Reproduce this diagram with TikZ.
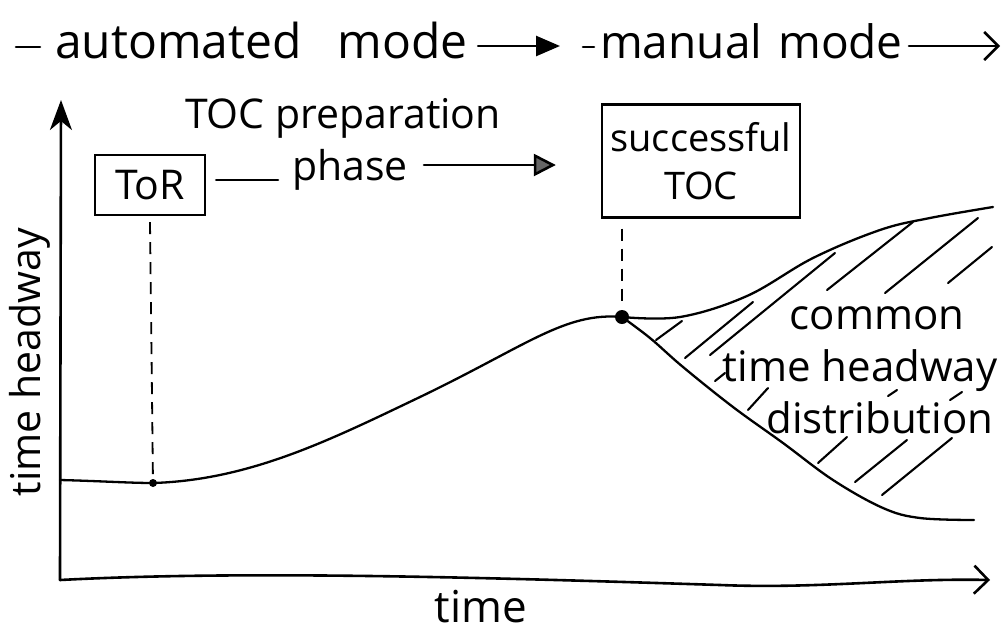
\documentclass[tikz,border=0pt]{standalone}
\usepackage{fontspec}
\setmainfont{Open Sans}
\usetikzlibrary{arrows.meta}
\begin{document}
\begin{tikzpicture}[x=1pt,y=-1pt,
  pen/.style={line width=2.6pt, line cap=round, line join=round},
  curve pen/.style={line width=2.3pt, line cap=round, line join=round},
  thin pen/.style={line width=2.1pt, line cap=round},
  dashline/.style={line width=1.8pt, dash pattern=on 12pt off 8pt},
  headline/.style={font=\fontsize{48}{54}\selectfont, inner sep=0pt},
  lbl/.style={font=\fontsize{41}{46}\selectfont, inner sep=0pt},
  region/.style={font=\fontsize{42}{52}\selectfont, inner sep=0pt, align=center},
  boxed/.style={draw, line width=2.4pt, inner sep=0pt, align=center},
  barb/.style={-{Straight Barb[length=14pt,width=28pt,line width=2.6pt]}},
  upbarb/.style={-{Stealth[length=30pt,width=22pt,inset=9pt]}},
  solidtip/.style={-{Triangle[length=24pt,width=20pt]}},
  greytip/.style={-{Triangle[length=22pt,width=22pt,fill=black!60]}},
  dot/.style={circle, fill, inner sep=0pt}]
\useasboundingbox (0,0) rectangle (1006,635);

% --- mode line along the top ---
\coordinate (topline) at (0,46);
\node[headline, anchor=base west] (auto) at (55,58) {automated\hspace{36pt}mode};
\node[font=\fontsize{46}{52}\selectfont, inner sep=0pt, anchor=base west] (manual) at (600,58) {manual\hspace{16pt}mode};
\coordinate (d0) at (16,47);
\coordinate (d1) at (40,47);
\draw[pen] (d0) -- (d1);
\coordinate (m0) at (583,47);
\coordinate (m1) at (594,47);
\draw[pen] (m0) -- (m1);
\draw[pen, solidtip] ([xshift=10pt]auto.east |- topline) -- ([xshift=-40pt]manual.west |- topline);
\coordinate (topend) at (1000,46);
\draw[pen, barb] ([xshift=6pt]manual.east |- topline) -- (topend);

% --- axes ---
\coordinate (o) at (60,580);
\coordinate (ytip) at (61,100);
\coordinate (xmid) at (720,585);
\coordinate (xtip) at (990,580);
\draw[pen, upbarb] (o) -- (ytip);
\draw[pen, barb] (o) .. controls (250,570) and (500,578) .. (xmid) .. controls (820,589) and (900,578) .. (xtip);
\node[font=\fontsize{44}{50}\selectfont, inner sep=0pt] (xlab) at (481,607) {time};
\node[lbl, rotate=90] (ylab) at (30,362) {time headway};

% --- events ---
\node[boxed, lbl, minimum width=110pt, minimum height=60pt] (tor) at (150,185) {ToR};
\node[boxed, font=\fontsize{38}{48}\selectfont, minimum width=198pt, minimum height=113pt] (succ) at (701,161) {successful\\TOC};
\node[lbl] (prep) at (343,118) {TOC preparation};
\node[lbl] (phase) at (350,170) {phase};
\coordinate (phaseline) at (0,165);
\coordinate (torline) at (0,180);
\draw[pen] ([xshift=10pt]tor.east |- torline) -- ([xshift=-14pt]phase.west |- torline);
\draw[pen, greytip] ([xshift=16pt]phase.east |- phaseline) -- ([xshift=-45pt]succ.west |- phaseline);

\node[dot, minimum size=8pt] (tordot) at (153,483) {};
\node[dot, minimum size=14pt] (tocdot) at (622,317) {};
\draw[dashline] ([yshift=-6pt]tor.south) -- (tordot.center);
\draw[dashline] ([yshift=-10pt]tocdot |- succ.south) -- ([yshift=9pt]tocdot.center);

% --- time headway curve and its two branches ---
\coordinate (c0) at (60,480);
\coordinate (bend) at (420,397);
\draw[curve pen] (c0) .. controls (100,481) and (130,483) .. (tordot.center)
  .. controls (250,480) and (330,440) .. (bend)
  .. controls (528,345) and (565,312) .. (tocdot.center);
\coordinate (upend) at (993,207);
\coordinate (lowend) at (974,520);
\draw[curve pen] plot[smooth, tension=0.6] coordinates {(tocdot.center) (680,317) (747,296) (813,258) (880,230) (930,218) (upend)};
\draw[curve pen] plot[smooth, tension=0.6] coordinates {(tocdot.center) (650,338) (683,367) (733,407) (783,443) (833,480) (883,508) (920,518) (lowend)};

% --- hatching of the spread ---
\foreach \a/\b in {
  {(682,321)}/{(656,340)},
  {(753,302)}/{(685,358)},
  {(835,253)}/{(710,355)},
  {(913,222)}/{(827,290)},
  {(978,218)}/{(885,293)},
  {(992,247)}/{(948,283)},
  {(725,373)}/{(715,381)},
  {(768,388)}/{(748,410)},
  {(897,390)}/{(888,396)},
  {(962,392)}/{(950,400)},
  {(847,437)}/{(818,463)},
  {(907,440)}/{(855,482)},
  {(952,438)}/{(882,495)}}
  \draw[thin pen] \a -- \b;

\node[region] (spread) at (860,370) {\hspace*{34pt}common\\time headway\\\hspace*{40pt}distribution};
\end{tikzpicture}
\end{document}
